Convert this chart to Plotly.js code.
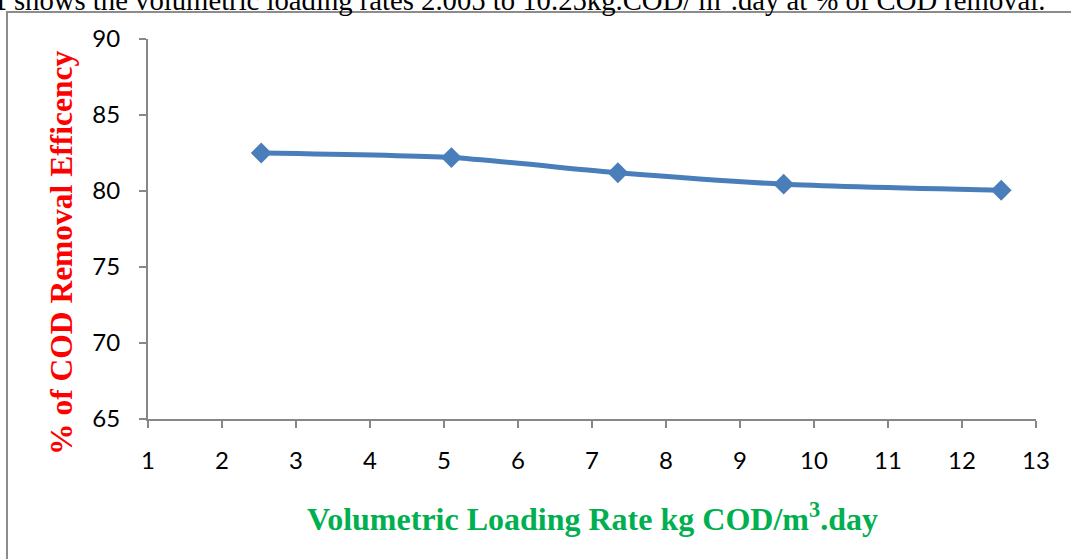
<!DOCTYPE html>
<html>
<head>
<meta charset="utf-8">
<script src="https://cdn.plot.ly/plotly-3.0.1.min.js"></script>
<style>
  html, body { margin: 0; padding: 0; background: #ffffff; }
  #chart { width: 1071px; height: 559px; }
</style>
</head>
<body>
<div id="chart"></div>
<script>
// Volumetric loading rate (kg COD/m3.day) against COD removal efficiency (%)
const loadingRate = [2.53, 5.10, 7.35, 9.59, 12.53];
const codRemoval = [82.5, 82.2, 81.2, 80.45, 80.05];
const xTicks = [1, 2, 3, 4, 5, 6, 7, 8, 9, 10, 11, 12, 13];
const yTicks = [65, 70, 75, 80, 85, 90];

const blue = '#4A7EBB';
const axisGrey = '#878787';

const trace = {
  x: loadingRate,
  y: codRemoval,
  type: 'scatter',
  mode: 'lines+markers',
  line: { color: blue, width: 5, shape: 'spline', smoothing: 0.6 },
  marker: { symbol: 'diamond', size: 16, color: blue },
  hoverinfo: 'x+y'
};

const tickFont = { family: 'Lato, "Open Sans", sans-serif', size: 24, color: '#000000' };
const serif = '"Liberation Serif", "Times New Roman", serif';

const layout = {
  width: 1071,
  height: 559,
  margin: { l: 148, r: 35, t: 39, b: 140 },
  paper_bgcolor: '#ffffff',
  plot_bgcolor: '#ffffff',
  showlegend: false,
  xaxis: {
    range: [1, 13],
    tickvals: xTicks,
    ticktext: xTicks.map(String),
    showgrid: false,
    zeroline: false,
    showline: true,
    linecolor: axisGrey,
    linewidth: 2,
    ticks: 'outside',
    ticklen: 7,
    tickwidth: 2,
    tickcolor: axisGrey,
    tickfont: tickFont,
    ticklabelstandoff: 12
  },
  yaxis: {
    range: [65, 90],
    tickvals: yTicks,
    ticktext: yTicks.map(String),
    showgrid: false,
    zeroline: false,
    showline: true,
    linecolor: axisGrey,
    linewidth: 2,
    ticks: 'outside',
    ticklen: 7,
    tickwidth: 2,
    tickcolor: axisGrey,
    tickfont: tickFont,
    ticklabelstandoff: 14
  },
  shapes: [
    {
      type: 'rect', xref: 'paper', yref: 'paper',
      x0: -0.1588, x1: 1.2, y0: -0.6, y1: 1.0711,
      line: { color: '#8c8c8c', width: 2 },
      fillcolor: 'rgba(0,0,0,0)',
      layer: 'below'
    }
  ],
  annotations: [
    {
      text: '<b>Figure 4.1</b> shows the volumetric loading rates 2.005 to 10.25kg.COD/ m<sup>3</sup>.day at % of COD removal.',
      xref: 'paper', yref: 'paper',
      x: 1.0124, y: 1.108,
      xanchor: 'right', yanchor: 'middle',
      showarrow: false,
      font: { family: serif, size: 28.7, color: '#000000' }
    },
    {
      text: '<b>% of COD Removal Efficency</b>',
      xref: 'paper', yref: 'paper',
      x: -0.0968, y: 0.437,
      xanchor: 'center', yanchor: 'middle',
      textangle: -90,
      showarrow: false,
      font: { family: serif, size: 31.5, color: '#FF0000' }
    },
    {
      text: '<b>Volumetric Loading Rate kg COD/m<sup>3</sup>.day</b>',
      xref: 'paper', yref: 'paper',
      x: 0.5, y: -0.258,
      xanchor: 'center', yanchor: 'middle',
      showarrow: false,
      font: { family: serif, size: 32, color: '#00B050' }
    }
  ]
};

Plotly.newPlot('chart', [trace], layout, { displayModeBar: false, staticPlot: true });
</script>
</body>
</html>
